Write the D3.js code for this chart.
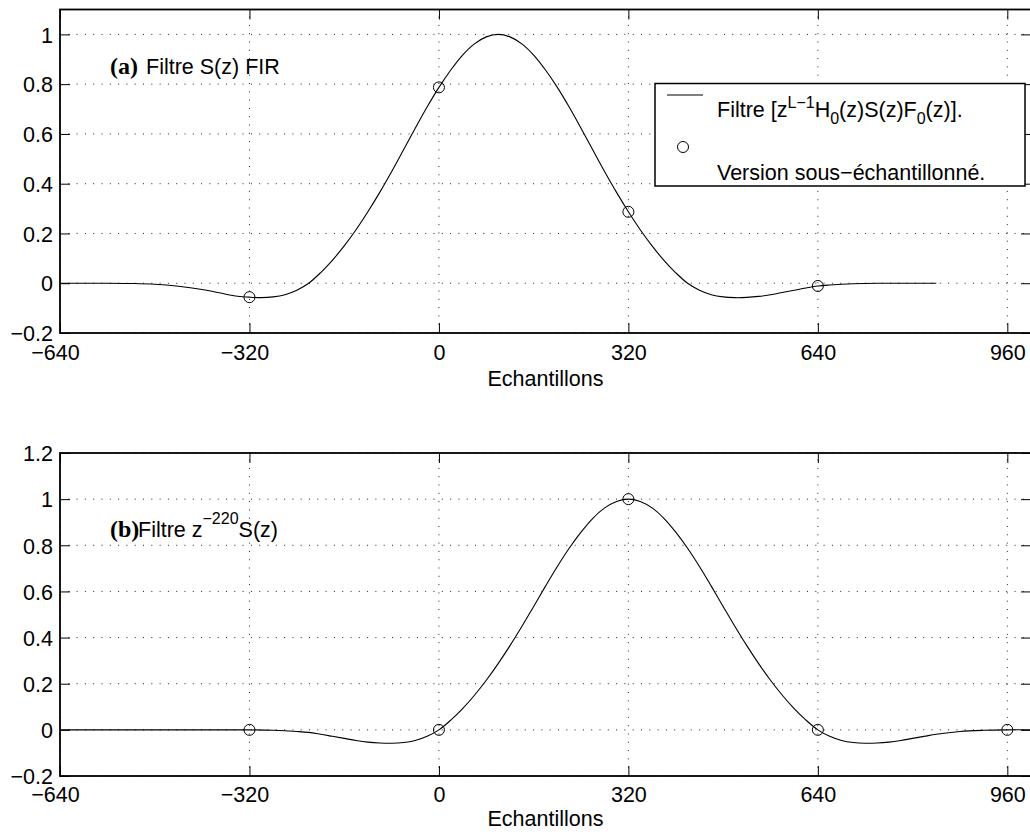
<!DOCTYPE html>
<html><head><meta charset="utf-8">
<script src="https://cdn.jsdelivr.net/npm/d3@7"></script>
<style>
body{margin:0;background:#fff}
svg{display:block}
text{font-family:"Liberation Sans",Arial,Helvetica,sans-serif;fill:#000}
</style>
</head><body>
<svg id="chart" width="1030" height="834"></svg>
<script>
// ---------- data ----------
const xTicks = [-640, -320, 0, 320, 640, 960];
const xTickLabels = ["−640", "−320", "0", "320", "640", "960"];
const yTicksTop = [-0.2, 0, 0.2, 0.4, 0.6, 0.8, 1];
const yTickLabelsTop = ["−0.2", "0", "0.2", "0.4", "0.6", "0.8", "1"];
const yTicksBottom = [-0.2, 0, 0.2, 0.4, 0.6, 0.8, 1, 1.2];
const yTickLabelsBottom = ["−0.2", "0", "0.2", "0.4", "0.6", "0.8", "1", "1.2"];
const xAxisLabel = "Echantillons";

// (a) filter curve and its decimated version
const topCurveX = [-640, -600, -560, -520, -480, -440, -400, -380, -360, -340, -320, -300, -280, -260, -240, -220,
  -200, -180, -160, -140, -120, -100, -80, -60, -40, -20, 0, 20, 40, 60, 80, 100, 120, 140, 160, 180,
  200, 220, 240, 260, 280, 300, 320, 340, 360, 380, 400, 420, 440, 460, 480, 500, 520, 540, 560, 580, 600, 620,
  640, 660, 700, 740, 780, 840];
const topCurveY = [0, 0, 0, -0.001, -0.004, -0.012, -0.025, -0.034, -0.044, -0.052, -0.056, -0.058, -0.055, -0.046, -0.028, 0,
  0.042, 0.092, 0.15, 0.215, 0.287, 0.365, 0.448, 0.535, 0.623, 0.708, 0.787, 0.857, 0.917, 0.962, 0.99, 1, 0.99, 0.962, 0.917, 0.857,
  0.787, 0.708, 0.623, 0.535, 0.448, 0.365, 0.287, 0.215, 0.15, 0.092, 0.042, 0, -0.028, -0.046, -0.055, -0.058, -0.057, -0.053, -0.046, -0.037, -0.028, -0.019,
  -0.011, -0.007, -0.002, 0, 0, 0];
const topSampleX = [-320, 0, 320, 640];
const topSampleY = [-0.056, 0.787, 0.287, -0.011];

// (b) delayed filter and its decimated version
const botCurveX = [-640, -600, -560, -520, -480, -440, -400, -360, -320, -280, -240, -220, -200, -180, -160, -140, -120, -100, -80, -60, -40, -20,
  0, 20, 40, 60, 80, 100, 120, 140, 160, 180, 200, 220, 240, 260, 280, 300, 320, 340, 360, 380, 400, 420, 440, 460, 480, 500,
  520, 540, 560, 580, 600, 620, 640, 660, 680, 700, 720, 740, 760, 780, 800, 820, 840, 880, 920, 960, 1000];
const botCurveY = [0, 0, 0, 0, 0, 0, 0, 0, 0, -0.002, -0.007, -0.011, -0.019, -0.028, -0.037, -0.046, -0.053, -0.057, -0.058, -0.055, -0.046, -0.028,
  0, 0.042, 0.092, 0.15, 0.215, 0.287, 0.365, 0.448, 0.535, 0.623, 0.708, 0.787, 0.857, 0.917, 0.962, 0.99, 1, 0.99, 0.962, 0.917, 0.857, 0.787, 0.708, 0.623, 0.535, 0.448,
  0.365, 0.287, 0.215, 0.15, 0.092, 0.042, 0, -0.028, -0.046, -0.055, -0.058, -0.057, -0.053, -0.046, -0.037, -0.028, -0.019, -0.007, -0.002, 0, 0];
const botSampleX = [-320, 0, 320, 640, 960];
const botSampleY = [0, 0, 1, 0, 0];

// ---------- drawing ----------
const svg = d3.select("#chart");
const FS = 21.5;
const x = d3.scaleLinear().domain([-640, 1000]).range([60, 1031]);

function panel(cfg) {
  const g = svg.append("g");
  const y = d3.scaleLinear().domain(cfg.ydom).range([cfg.bottom, cfg.top]);

  // grid (dotted)
  const gridAttrs = sel => sel.attr("stroke", "#222").attr("stroke-width", 1).attr("stroke-dasharray", "1,7.3").attr("fill", "none");
  g.append("g").selectAll("line").data(xTicks).join("line")
    .attr("x1", d => x(d)).attr("x2", d => x(d)).attr("y1", cfg.bottom).attr("y2", cfg.top).call(gridAttrs);
  g.append("g").selectAll("line").data(cfg.yTicks).join("line")
    .attr("y1", d => y(d)).attr("y2", d => y(d)).attr("x1", 60).attr("x2", 1031).call(gridAttrs);

  const fmtX = d => xTickLabels[xTicks.indexOf(d)];
  const fmtY = d => cfg.yLabels[cfg.yTicks.indexOf(d)];

  // bottom axis with labels
  const bx = g.append("g").attr("transform", `translate(0,${cfg.bottom})`)
    .call(d3.axisBottom(x).tickValues(xTicks).tickSizeInner(-10).tickSizeOuter(0).tickFormat(fmtX));
  bx.select(".domain").remove();
  bx.attr("font-family", null).attr("font-size", FS);
  bx.selectAll("text").attr("y", cfg.xLabelBase - cfg.bottom).attr("dy", null)
    .attr("dx", d => d < 0 ? -5 : 0);
  bx.selectAll("line").attr("stroke", "#000");

  // top axis (ticks only)
  const tx = g.append("g").attr("transform", `translate(0,${cfg.top})`)
    .call(d3.axisTop(x).tickValues(xTicks).tickSizeInner(-10).tickSizeOuter(0).tickFormat(""));
  tx.select(".domain").remove();
  tx.selectAll("text").remove();

  // left axis with labels
  const ly = g.append("g").attr("transform", `translate(60,0)`)
    .call(d3.axisLeft(y).tickValues(cfg.yTicks).tickSizeInner(-10).tickSizeOuter(0).tickPadding(7).tickFormat(fmtY));
  ly.select(".domain").remove();
  ly.attr("font-family", null).attr("font-size", FS);
  ly.selectAll("text").attr("dy", "0.36em");

  // right axis (ticks only)
  const ry = g.append("g").attr("transform", `translate(1031,0)`)
    .call(d3.axisRight(y).tickValues(cfg.yTicks).tickSizeInner(-10).tickSizeOuter(0).tickFormat(""));
  ry.select(".domain").remove();
  ry.selectAll("text").remove();

  // box
  g.append("rect").attr("x", 60).attr("y", cfg.top).attr("width", 1031 - 60).attr("height", cfg.bottom - cfg.top)
    .attr("fill", "none").attr("stroke", "#000").attr("stroke-width", 1.8);

  // curve
  const line = d3.line().x(d => x(d[0])).y(d => y(d[1])).curve(d3.curveCatmullRom.alpha(0.5));
  g.append("path").datum(d3.zip(cfg.cx, cfg.cy)).attr("d", line)
    .attr("fill", "none").attr("stroke", "#000").attr("stroke-width", 1.1);

  // samples
  g.append("g").selectAll("circle").data(d3.zip(cfg.sx, cfg.sy)).join("circle")
    .attr("cx", d => x(d[0])).attr("cy", d => y(d[1])).attr("r", 5.5)
    .attr("fill", "none").attr("stroke", "#000").attr("stroke-width", 1);

  // x label
  g.append("text").attr("x", (60 + 1031) / 2).attr("y", cfg.titleBase).attr("text-anchor", "middle")
    .attr("font-size", FS).text(xAxisLabel);
  return g;
}

const gTop = panel({ydom: [-0.2, 1.1], top: 9.5, bottom: 333, yTicks: yTicksTop, yLabels: yTickLabelsTop,
  xLabelBase: 360, titleBase: 386, cx: topCurveX, cy: topCurveY, sx: topSampleX, sy: topSampleY});
const gBot = panel({ydom: [-0.2, 1.2], top: 453, bottom: 776, yTicks: yTicksBottom, yLabels: yTickLabelsBottom,
  xLabelBase: 802, titleBase: 826, cx: botCurveX, cy: botCurveY, sx: botSampleX, sy: botSampleY});

// annotations
const serif = "'Liberation Serif','Times New Roman',Times,serif";
svg.append("text").attr("x", 110).attr("y", 74).style("font-family", serif)
  .attr("font-weight", "bold").attr("font-size", 24).text("(a)");
svg.append("text").attr("x", 146).attr("y", 74).attr("font-size", FS).text("Filtre S(z) FIR");

svg.append("text").attr("x", 110).attr("y", 537).style("font-family", serif)
  .attr("font-weight", "bold").attr("font-size", 24).text("(b)");
const tb = svg.append("text").attr("x", 138).attr("y", 537).attr("font-size", FS);
tb.append("tspan").text("Filtre z");
tb.append("tspan").attr("dy", -13).attr("font-size", 16).text("−220");
tb.append("tspan").attr("dy", 13).text("S(z)");

// legend
const lg = svg.append("g");
lg.append("rect").attr("x", 655).attr("y", 83.5).attr("width", 370).attr("height", 102.5)
  .attr("fill", "#fff").attr("stroke", "#000").attr("stroke-width", 1.5);
lg.append("line").attr("x1", 667).attr("x2", 703).attr("y1", 95).attr("y2", 95)
  .attr("stroke", "#000").attr("stroke-width", 1.1);
lg.append("circle").attr("cx", 683).attr("cy", 147).attr("r", 5.5)
  .attr("fill", "none").attr("stroke", "#000").attr("stroke-width", 1);
const t1 = lg.append("text").attr("x", 717).attr("y", 117).attr("font-size", FS);
t1.append("tspan").text("Filtre [z");
t1.append("tspan").attr("dy", -9).attr("font-size", 16).text("L−1");
t1.append("tspan").attr("dy", 9).text("H");
t1.append("tspan").attr("dy", 7).attr("font-size", 16).text("0");
t1.append("tspan").attr("dy", -7).text("(z)S(z)F");
t1.append("tspan").attr("dy", 7).attr("font-size", 16).text("0");
t1.append("tspan").attr("dy", -7).text("(z)].");
lg.append("text").attr("x", 717).attr("y", 180).attr("font-size", FS).text("Version sous−échantillonné.");
</script>
</body></html>
